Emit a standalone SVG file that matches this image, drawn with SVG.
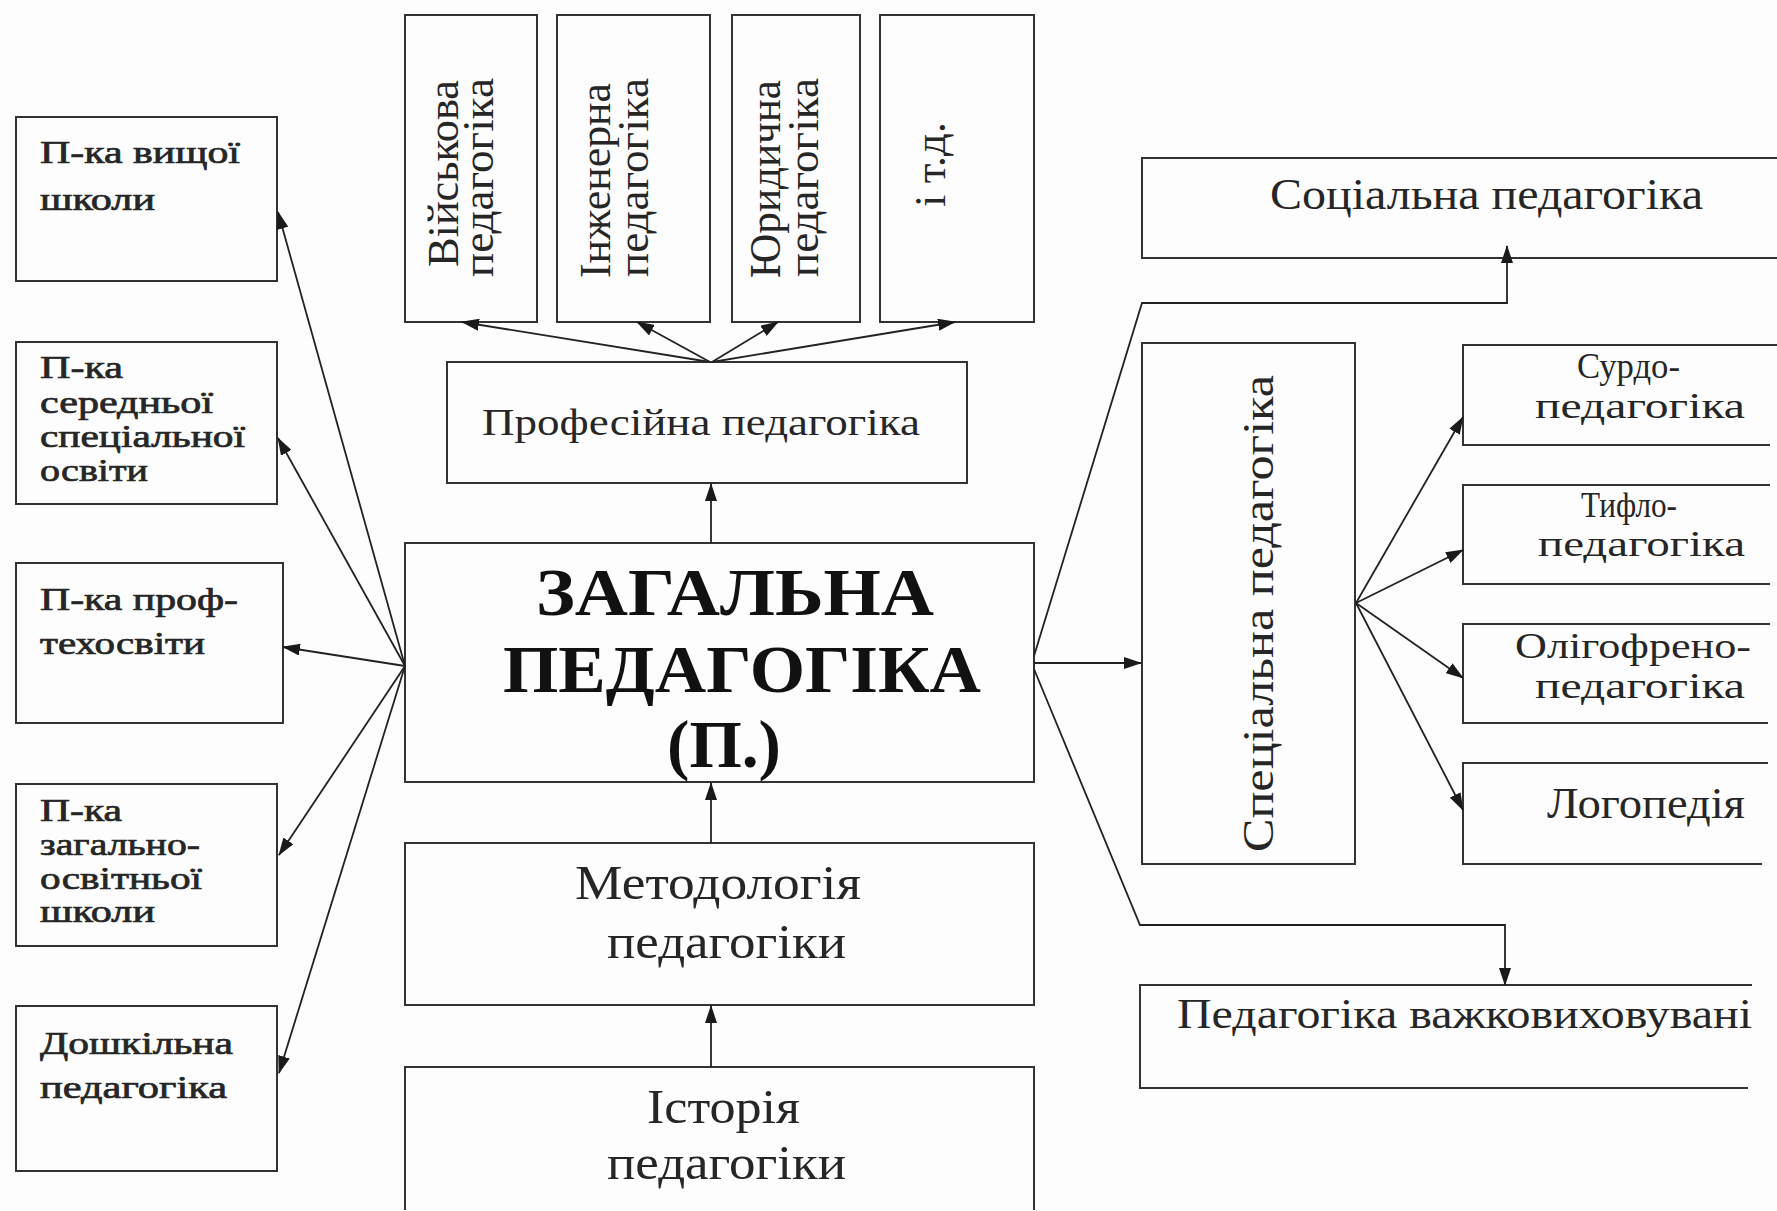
<svg xmlns="http://www.w3.org/2000/svg" width="1777" height="1211" viewBox="0 0 1777 1211">
<defs>
<marker id="ah" markerWidth="18" markerHeight="12" refX="17" refY="6" orient="auto" markerUnits="userSpaceOnUse"><path d="M0,0 L18,6 L0,12 z" fill="#1a1a1a"/></marker>
<style>
.box{fill:none;stroke:#333;stroke-width:2}
.t{font-family:"Liberation Serif","Times New Roman",serif;fill:#262626}
.l{font-size:31px;stroke:#262626;stroke-width:0.7}
.m{font-size:44px}
.r{font-size:35px}
.b{font-size:68px;font-weight:bold;fill:#111}
.c{stroke:#222;stroke-width:1.8;fill:none}
.a{marker-end:url(#ah)}
</style>
</defs>
<rect width="1777" height="1211" fill="#fdfdfd"/>

<g id="n-vyshcha">
<rect class="box" x="16" y="117" width="261" height="164"/>
<text class="t l" x="40" y="163" textLength="200" lengthAdjust="spacingAndGlyphs">П-ка вищої</text>
<text class="t l" x="40" y="210" textLength="115" lengthAdjust="spacingAndGlyphs">школи</text>
</g>
<g id="n-serednia">
<rect class="box" x="16" y="342" width="261" height="162"/>
<text class="t l" x="40" y="378" textLength="83" lengthAdjust="spacingAndGlyphs">П-ка</text>
<text class="t l" x="40" y="413" textLength="173" lengthAdjust="spacingAndGlyphs">середньої</text>
<text class="t l" x="40" y="447" textLength="205" lengthAdjust="spacingAndGlyphs">спеціальної</text>
<text class="t l" x="40" y="481" textLength="108" lengthAdjust="spacingAndGlyphs">освіти</text>
</g>
<g id="n-proftekh">
<rect class="box" x="16" y="563" width="267" height="160"/>
<text class="t l" x="40" y="610" textLength="198" lengthAdjust="spacingAndGlyphs">П-ка проф-</text>
<text class="t l" x="40" y="654" textLength="165" lengthAdjust="spacingAndGlyphs">техосвіти</text>
</g>
<g id="n-zagalnoosv">
<rect class="box" x="16" y="784" width="261" height="162"/>
<text class="t l" x="40" y="821" textLength="82" lengthAdjust="spacingAndGlyphs">П-ка</text>
<text class="t l" x="40" y="855" textLength="160" lengthAdjust="spacingAndGlyphs">загально-</text>
<text class="t l" x="40" y="889" textLength="162" lengthAdjust="spacingAndGlyphs">освітньої</text>
<text class="t l" x="40" y="922" textLength="115" lengthAdjust="spacingAndGlyphs">школи</text>
</g>
<g id="n-doshkilna">
<rect class="box" x="16" y="1006" width="261" height="165"/>
<text class="t l" x="40" y="1054" textLength="193" lengthAdjust="spacingAndGlyphs">Дошкільна</text>
<text class="t l" x="40" y="1098" textLength="187" lengthAdjust="spacingAndGlyphs">педагогіка</text>
</g>

<g id="n-viiskova">
<rect class="box" x="405" y="15" width="132" height="307"/>
<text class="t m" transform="translate(458,267) rotate(-90)" textLength="187" lengthAdjust="spacingAndGlyphs">Військова</text>
<text class="t m" transform="translate(493,277) rotate(-90)" textLength="199" lengthAdjust="spacingAndGlyphs">педагогіка</text>
</g>
<g id="n-inzhenerna">
<rect class="box" x="557" y="15" width="153" height="307"/>
<text class="t m" transform="translate(610,278) rotate(-90)" textLength="195" lengthAdjust="spacingAndGlyphs">Інженерна</text>
<text class="t m" transform="translate(648,277) rotate(-90)" textLength="199" lengthAdjust="spacingAndGlyphs">педагогіка</text>
</g>
<g id="n-yurydychna">
<rect class="box" x="732" y="15" width="128" height="307"/>
<text class="t m" transform="translate(780,278) rotate(-90)" textLength="198" lengthAdjust="spacingAndGlyphs">Юридична</text>
<text class="t m" transform="translate(818,277) rotate(-90)" textLength="199" lengthAdjust="spacingAndGlyphs">педагогіка</text>
</g>
<g id="n-itd">
<rect class="box" x="880" y="15" width="154" height="307"/>
<text class="t m" transform="translate(945,207) rotate(-90)" textLength="85" lengthAdjust="spacingAndGlyphs">і т.д.</text>
</g>

<g id="n-profesiina">
<rect class="box" x="447" y="362" width="520" height="121"/>
<text class="t" style="font-size:37px" x="482" y="435" textLength="438" lengthAdjust="spacingAndGlyphs">Професійна педагогіка</text>
</g>
<g id="n-zagalna">
<rect class="box" x="405" y="543" width="629" height="239"/>
<text class="t b" x="536" y="615" textLength="398" lengthAdjust="spacingAndGlyphs">ЗАГАЛЬНА</text>
<text class="t b" x="503" y="692" textLength="478" lengthAdjust="spacingAndGlyphs">ПЕДАГОГІКА</text>
<text class="t b" x="667" y="767" textLength="114" lengthAdjust="spacingAndGlyphs">(П.)</text>
</g>
<g id="n-metodolohiia">
<rect class="box" x="405" y="843" width="629" height="162"/>
<text class="t" style="font-size:48px" x="575" y="899" textLength="286" lengthAdjust="spacingAndGlyphs">Методологія</text>
<text class="t" style="font-size:48px" x="607" y="958" textLength="239" lengthAdjust="spacingAndGlyphs">педагогіки</text>
</g>
<g id="n-istoriia">
<path class="box" d="M405,1210 V1067 H1034 V1210"/>
<text class="t" style="font-size:48px" x="647" y="1123" textLength="153" lengthAdjust="spacingAndGlyphs">Історія</text>
<text class="t" style="font-size:48px" x="607" y="1179" textLength="239" lengthAdjust="spacingAndGlyphs">педагогіки</text>
</g>

<g id="n-sotsialna">
<path class="box" d="M1777,158 H1142 V258 H1777"/>
<text class="t" style="font-size:44px" x="1270" y="209" textLength="433" lengthAdjust="spacingAndGlyphs">Соціальна педагогіка</text>
</g>
<g id="n-spetsialna">
<rect class="box" x="1142" y="343" width="213" height="521"/>
<text class="t m" transform="translate(1273,852) rotate(-90)" textLength="477" lengthAdjust="spacingAndGlyphs">Спеціальна педагогіка</text>
</g>
<g id="n-surdo">
<path class="box" d="M1777,345 H1463 V445 H1770"/>
<text class="t r" x="1577" y="378" textLength="103" lengthAdjust="spacingAndGlyphs">Сурдо-</text>
<text class="t r" x="1535" y="418" textLength="210" lengthAdjust="spacingAndGlyphs">педагогіка</text>
</g>
<g id="n-tyflo">
<path class="box" d="M1770,485 H1463 V584 H1770"/>
<text class="t r" x="1581" y="517" textLength="96" lengthAdjust="spacingAndGlyphs">Тифло-</text>
<text class="t r" x="1538" y="556" textLength="207" lengthAdjust="spacingAndGlyphs">педагогіка</text>
</g>
<g id="n-olihofreno">
<path class="box" d="M1770,624 H1463 V723 H1768"/>
<text class="t r" x="1515" y="658" textLength="236" lengthAdjust="spacingAndGlyphs">Олігофрено-</text>
<text class="t r" x="1535" y="698" textLength="210" lengthAdjust="spacingAndGlyphs">педагогіка</text>
</g>
<g id="n-lohopediia">
<path class="box" d="M1768,763 H1463 V864 H1762"/>
<text class="t m" x="1547" y="818" textLength="198" lengthAdjust="spacingAndGlyphs">Логопедія</text>
</g>
<g id="n-vazhkovykh">
<path class="box" d="M1752,985 H1140 V1088 H1748"/>
<text class="t" style="font-size:42px" x="1177" y="1028" textLength="575" lengthAdjust="spacingAndGlyphs">Педагогіка важковиховувані</text>
</g>

<g id="connectors">
<line class="c a" x1="711" y1="543" x2="711" y2="484"/>
<line class="c a" x1="711" y1="843" x2="711" y2="783"/>
<line class="c a" x1="711" y1="1067" x2="711" y2="1006"/>
<line class="c a" x1="710" y1="362" x2="462" y2="322"/>
<line class="c a" x1="710" y1="362" x2="637" y2="322"/>
<line class="c a" x1="712" y1="362" x2="778" y2="322"/>
<line class="c a" x1="712" y1="362" x2="955" y2="322"/>
<line class="c a" x1="405" y1="666" x2="278" y2="212"/>
<line class="c a" x1="405" y1="666" x2="278" y2="438"/>
<line class="c a" x1="405" y1="666" x2="283" y2="647"/>
<line class="c a" x1="405" y1="666" x2="279" y2="855"/>
<line class="c a" x1="405" y1="666" x2="279" y2="1073"/>
<polyline class="c a" points="1034,656 1142,303 1507,303 1507,246"/>
<line class="c a" x1="1034" y1="663" x2="1141" y2="663"/>
<polyline class="c a" points="1034,669 1140,925 1505,925 1505,985"/>
<line class="c a" x1="1356" y1="603" x2="1463" y2="417"/>
<line class="c a" x1="1356" y1="603" x2="1463" y2="550"/>
<line class="c a" x1="1356" y1="603" x2="1463" y2="678"/>
<line class="c a" x1="1356" y1="603" x2="1463" y2="810"/>
</g>
</svg>
